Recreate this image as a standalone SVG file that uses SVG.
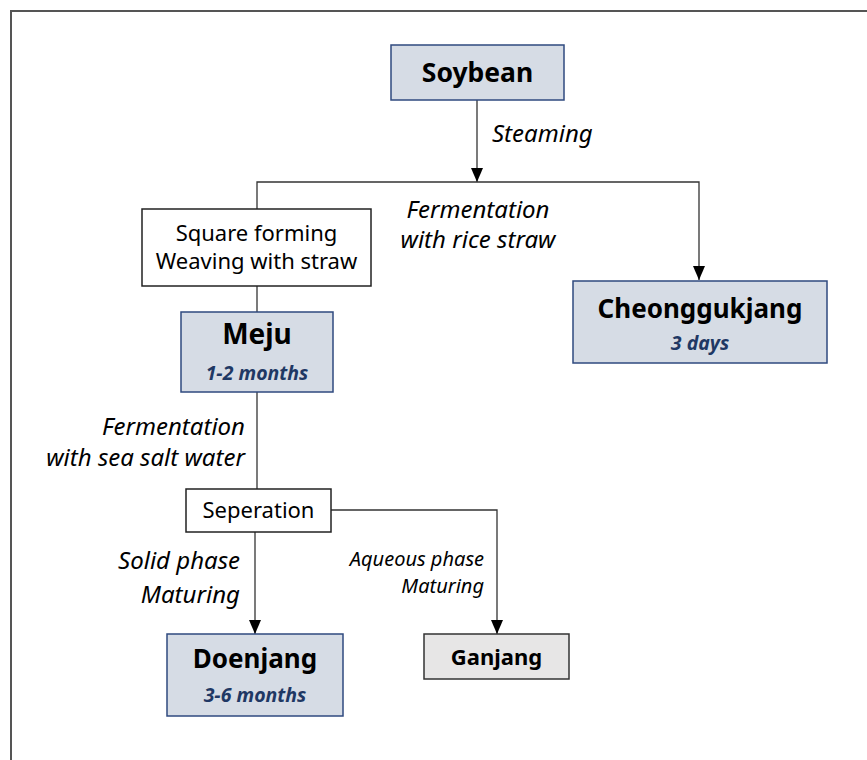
<svg xmlns="http://www.w3.org/2000/svg" width="867" height="760" viewBox="0 0 867 760">
<defs>
<marker id="arr" viewBox="0 0 14 12" refX="14" refY="6" markerWidth="14" markerHeight="12" markerUnits="userSpaceOnUse" orient="auto">
<path d="M0,0 L14,6 L0,12 Z" fill="#000"/>
</marker>
</defs>
<style>
text{font-family:"Noto Sans","Open Sans",sans-serif;fill:#000}
.main{fill:#d6dce5;stroke:#2f4a7f;stroke-width:1.5}
.plain{fill:#fff;stroke:#222;stroke-width:1.5}
.gray{fill:#e7e6e6;stroke:#333;stroke-width:1.5}
.t{font-weight:bold;font-size:26px;text-anchor:middle}
.s{font-weight:bold;font-style:italic;font-size:19.5px;fill:#1f3864;text-anchor:middle}
.r{font-size:22px;text-anchor:middle}
.lab{font-style:italic;font-size:24px}
.lab2{font-style:italic;font-size:20px}
.c{fill:none;stroke:#333;stroke-width:1.3}
</style>
<path d="M11,760 V11 H867" fill="none" stroke="#555" stroke-width="2"/>
<g id="connectors">
<line class="c" x1="477" y1="100" x2="477" y2="182" marker-end="url(#arr)"/>
<path class="c" d="M257,209 V182 H699 V280" marker-end="url(#arr)"/>
<line class="c" x1="257" y1="286" x2="257" y2="312"/>
<line class="c" x1="257" y1="392" x2="257" y2="489"/>
<line class="c" x1="255" y1="532" x2="255" y2="634" marker-end="url(#arr)"/>
<path class="c" d="M331,510 H497 V634" marker-end="url(#arr)"/>
<text class="lab" x="492" y="142">Steaming</text>
<text class="lab" x="478" y="218" text-anchor="middle">Fermentation</text>
<text class="lab" x="478" y="248" text-anchor="middle">with rice straw</text>
<text class="lab" x="245" y="435" text-anchor="end">Fermentation</text>
<text class="lab" x="245" y="466" text-anchor="end">with sea salt water</text>
<text class="lab" x="240" y="569" text-anchor="end">Solid phase</text>
<text class="lab" x="240" y="603" text-anchor="end">Maturing</text>
<text class="lab2" x="484" y="566" text-anchor="end">Aqueous phase</text>
<text class="lab2" x="484" y="593" text-anchor="end">Maturing</text>
</g>
<g id="soybean">
<rect class="main" x="391" y="45" width="173" height="55"/>
<text class="t" x="477.5" y="82" style="font-size:26.5px">Soybean</text>
</g>
<g id="square">
<rect class="plain" x="142" y="209" width="229" height="77"/>
<text class="r" x="256.5" y="241">Square forming</text>
<text class="r" x="256.5" y="269">Weaving with straw</text>
</g>
<g id="meju">
<rect class="main" x="181" y="312" width="152" height="80"/>
<text class="t" x="257" y="344" style="font-size:28px">Meju</text>
<text class="s" x="257" y="380">1-2 months</text>
</g>
<g id="cheonggukjang">
<rect class="main" x="573" y="281" width="254" height="82"/>
<text class="t" x="700" y="318">Cheonggukjang</text>
<text class="s" x="700" y="350">3 days</text>
</g>
<g id="seperation">
<rect class="plain" x="186" y="489" width="145" height="43"/>
<text class="r" x="258.5" y="518">Seperation</text>
</g>
<g id="doenjang">
<rect class="main" x="167" y="634" width="176" height="82"/>
<text class="t" x="255" y="668">Doenjang</text>
<text class="s" x="255" y="702">3-6 months</text>
</g>
<g id="ganjang">
<rect class="gray" x="424" y="634" width="145" height="45"/>
<text class="t" x="496.5" y="665" style="font-size:22px">Ganjang</text>
</g>
</svg>
